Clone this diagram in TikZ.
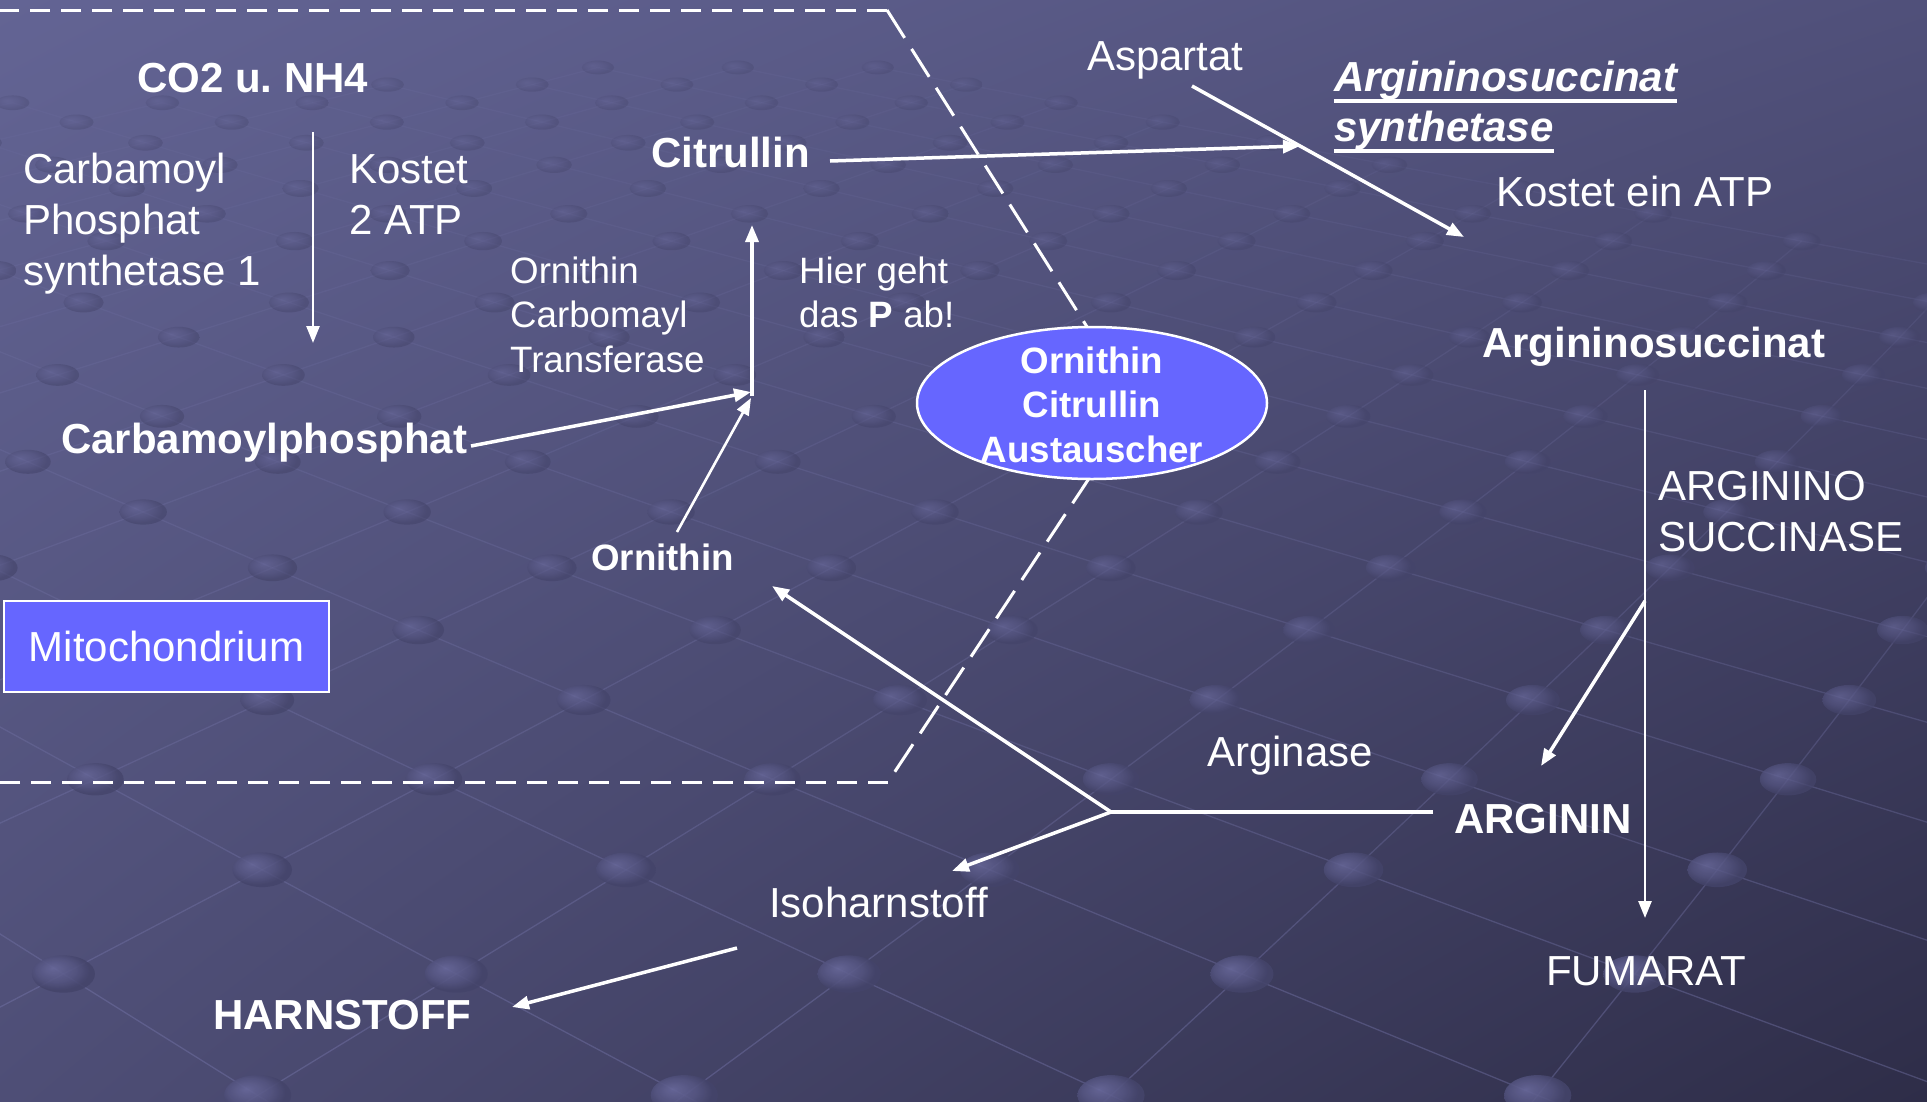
\documentclass[tikz,border=0pt]{standalone}
\usepackage{fontspec}
\setmainfont{Liberation Sans}
\usetikzlibrary{arrows.meta,shapes.geometric,shadings}
\definecolor{bgUL}{RGB}{99,100,148}
\definecolor{bgUR}{RGB}{80,80,122}
\definecolor{bgLL}{RGB}{78,78,118}
\definecolor{bgLR}{RGB}{46,45,72}
\definecolor{dotA}{RGB}{104,104,154}
\definecolor{dotB}{RGB}{84,84,128}
\definecolor{dotC}{RGB}{68,68,106}
\definecolor{gridc}{RGB}{125,125,180}
\definecolor{boxblue}{RGB}{102,102,255}
\pgfdeclareradialshading{dotsh}{\pgfpoint{-9bp}{8bp}}{color(0bp)=(dotA);color(16bp)=(dotB);color(25bp)=(dotC);color(50bp)=(dotC)}
\newcommand\myul[1]{\setbox0\hbox{#1}\rlap{\rule[-12pt]{\wd0}{4pt}}\box0}
\tikzset{
  txt/.style={text=white, inner sep=0pt, font=\fontsize{42}{51}\selectfont},
  txtb/.style={txt, font=\fontsize{42}{51}\selectfont\bfseries},
  txts/.style={txt, font=\fontsize{36.7}{44.5}\selectfont},
  txtsb/.style={txt, font=\fontsize{36.7}{44.5}\selectfont\bfseries},
  arr/.style={draw=white, line width=3.5pt, -{Triangle[length=17pt,width=13pt]}},
  arrthin/.style={arr, line width=2.6pt},
  plainline/.style={draw=white, line width=4pt},
  dashH/.style={draw=white, line width=3pt, dash pattern=on 20pt off 11pt},
  dashD/.style={draw=white, line width=3pt, dash pattern=on 33pt off 13pt},
  gridline/.style={draw=gridc, line width=1.3pt},
  bluebox/.style={draw=white, line width=2.5pt, fill=boxblue},
}
\begin{document}
\begin{tikzpicture}[x=1pt,y=-1pt]
\useasboundingbox (0,0) rectangle (1927,1101);
\shade[upper left=bgUL, upper right=bgUR, lower left=bgLL, lower right=bgLR] (0,0) rectangle (1927,1101);
% perspective lattice (background decoration)
\begin{scope}
\clip (0,0) rectangle (1927,1101);
\foreach \r in {-21,...,7}{
  \pgfmathsetmacro\ya{-500+1000/(0.9365-0.0516*\r)}
  \pgfmathsetmacro\yb{-500+1000/(0.9365-0.0516*(\r+1))}
  \pgfmathsetmacro\sa{0.279*(\ya+434)}
  \pgfmathsetmacro\sb{0.279*(\yb+434)}
  \pgfmathsetmacro\op{max(0.1,min(0.4,0.05+0.33*\ya/1000))}
  \foreach \n in {-18,...,7}{
    \pgfmathsetmacro\xa{1111+(\n-\r/3)*\sa}
    \pgfmathsetmacro\ye{max(50+0.06*(850-\xa),50+0.19*(\xa-850))}
    \ifdim\ya pt<\ye pt\relax\else
      \pgfmathsetmacro\xb{1111+(\n-(\r+1)/3)*\sb}
      \pgfmathsetmacro\xc{1111+(\n+1-(\r+1)/3)*\sb}
      \draw[gridline, opacity=\op] (\xa,\ya) -- (\xb,\yb) (\xa,\ya) -- (\xc,\yb);
    \fi
  }
}
\foreach \r in {-21,...,7}{
  \pgfmathsetmacro\ya{-500+1000/(0.9365-0.0516*\r)}
  \pgfmathsetmacro\sa{0.279*(\ya+434)}
  \pgfmathsetmacro\rx{15+0.017*\ya}
  \pgfmathsetmacro\ry{6+0.013*\ya}
  \pgfmathsetmacro\dop{max(0.3,min(0.9,0.25+0.65*\ya/1000))}
  \foreach \n in {-18,...,7}{
    \pgfmathsetmacro\xa{1111+(\n-\r/3)*\sa}
    \pgfmathsetmacro\ye{max(50+0.06*(850-\xa),50+0.19*(\xa-850))}
    \ifdim\ya pt<\ye pt\relax\else
      \shade[shading=dotsh, opacity=\dop] (\xa,\ya) ellipse [x radius=\rx pt, y radius=\ry pt];
    \fi
  }
}
\end{scope}
% dashed mitochondrium border
\coordinate (d1) at (0,10);
\coordinate (d2) at (887,10);
\coordinate (d3) at (1137,406);
\coordinate (d4) at (888,782);
\coordinate (d5) at (0,782);
\draw[dashH] (d2) -- (d1);
\draw[dashD] (d2) -- (d3) -- (d4);
\draw[dashH] (d4) -- (d5);
% exchanger
\node[ellipse, bluebox, minimum width=350pt, minimum height=152pt, inner sep=0pt] (exch) at (1092,403) {};
\node[txtsb] (exchtxt) at ([yshift=-6pt]exch.center) {\begin{tabular}{@{}c@{}}Ornithin\\Citrullin\\Austauscher\end{tabular}};
% mitochondrium label
\node[bluebox, txt, minimum width=325pt, minimum height=91pt] (mito) at (166.5,646.5) {Mitochondrium};
% texts
\node[txtb, anchor=base west] (co2) at (137,92) {CO2 u.\ NH4};
\node[txt, anchor=base west] (cps) at (23,183) {\begin{tabular}[t]{@{}l@{}}Carbamoyl\\Phosphat\\synthetase 1\end{tabular}};
\node[txt, anchor=base west] (kost2) at (349,183) {\begin{tabular}[t]{@{}l@{}}Kostet\\2 ATP\end{tabular}};
\node[txtb, anchor=base west] (citr) at (651,167) {Citrullin};
\node[txts, anchor=base west] (oct) at (510,283) {\begin{tabular}[t]{@{}l@{}}Ornithin\\Carbomayl\\Transferase\end{tabular}};
\node[txts, anchor=base west] (hier) at (799,283) {\begin{tabular}[t]{@{}l@{}}Hier geht\\das \textbf{P} ab!\end{tabular}};
\node[txtb, anchor=base west] (cphos) at (61,453) {Carbamoylphosphat};
\node[txtsb, anchor=base west] (orn) at (591,570) {Ornithin};
\node[txt, anchor=base west] (asp) at (1087,70) {Aspartat};
\node[txt, anchor=base west, font=\fontsize{42}{50}\selectfont\bfseries\itshape] (ass) at (1334,91) {\begin{tabular}[t]{@{}l@{}}\myul{Argininosuccinat}\\\myul{synthetase}\end{tabular}};
\node[txt, anchor=base west] (kost1) at (1496,206) {Kostet ein ATP};
\node[txtb, anchor=base west] (asucc) at (1482,357) {Argininosuccinat};
\node[txt, anchor=base west] (asucase) at (1658,500) {\begin{tabular}[t]{@{}l@{}}ARGININO\\SUCCINASE\end{tabular}};
\node[txtb, anchor=base west] (arg) at (1454,833) {ARGININ};
\node[txt, anchor=base west] (argase) at (1207,766) {Arginase};
\node[txt, anchor=base west] (iso) at (769,917) {Isoharnstoff};
\node[txtb, anchor=base west] (harn) at (213,1029) {HARNSTOFF};
\node[txt, anchor=base west] (fum) at (1546,985) {FUMARAT};
% connector end points
\coordinate (co2a) at (313,132);
\coordinate (co2b) at (313,343);
\coordinate (citA) at (830,161);
\coordinate (citB) at (1300,146);
\coordinate (aspA) at (1192,86);
\coordinate (aspB) at (1464,237);
\coordinate (ocA) at (752,396);
\coordinate (ocB) at (752,225);
\coordinate (cpA) at (471,446);
\coordinate (cpB) at (751,392);
\coordinate (orA) at (677,532);
\coordinate (orB) at (751,398);
\coordinate (asA) at (1645,390);
\coordinate (asB) at (1645,918);
\coordinate (brA) at (1645,601);
\coordinate (brB) at (1541,766);
\coordinate (argA) at (1433,812);
\coordinate (jn) at (1111,812);
\coordinate (ornTip) at (772,586);
\coordinate (isoTip) at (952,871);
\coordinate (isoA) at (737,948);
\coordinate (harB) at (512,1007);
% connectors
\draw[arrthin] (co2a) -- (co2b);
\draw[arr] (citA) -- (citB);
\draw[arr] (aspA) -- (aspB);
\draw[arr] (ocA) -- (ocB);
\draw[arr] (cpA) -- (cpB);
\draw[arrthin] (orA) -- (orB);
\draw[arrthin] (asA) -- (asB);
\draw[arr] (brA) -- (brB);
\draw[plainline] (argA) -- (jn);
\draw[arr] (jn) -- (ornTip);
\draw[arr] (jn) -- (isoTip);
\draw[arr] (isoA) -- (harB);
\end{tikzpicture}
\end{document}
